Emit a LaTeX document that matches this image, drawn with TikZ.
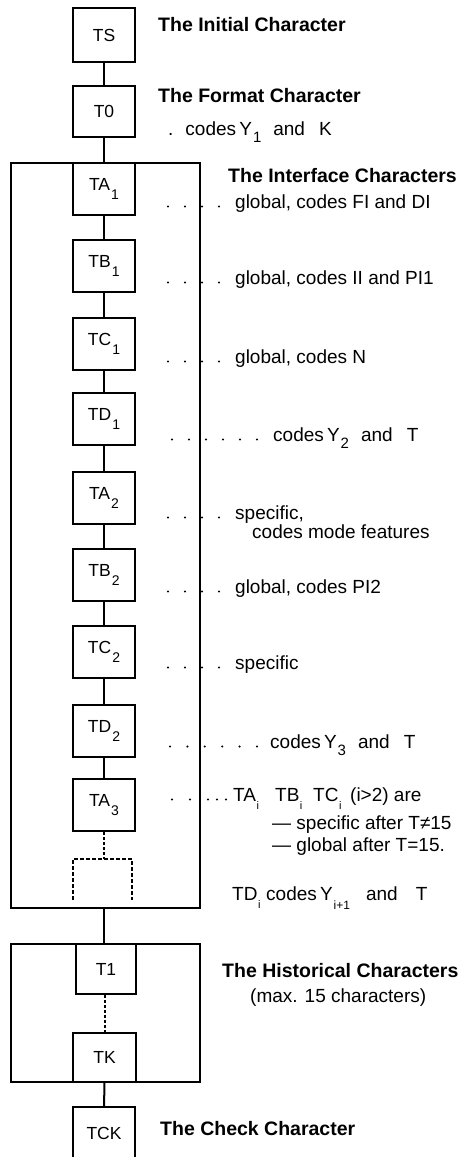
\documentclass[tikz,border=0pt]{standalone}
\usepackage{fontspec}
\setmainfont{Liberation Sans}
\newcommand\bsub[1]{\kern1pt\raisebox{-9pt}{\fontsize{14pt}{14pt}\selectfont #1}}
\newcommand\tsub[1]{\kern1pt\raisebox{-7pt}{\fontsize{15pt}{15pt}\selectfont #1}}
\newcommand\isub[1]{\kern0.5pt\raisebox{-8pt}{\fontsize{11pt}{11pt}\selectfont #1}}
\newcommand\ysub[1]{\kern1pt\raisebox{-9pt}{\fontsize{12pt}{12pt}\selectfont #1}}
\begin{document}
\begin{tikzpicture}[x=1pt,y=-1pt,
  cbox/.style={draw,line width=2pt,minimum width=62pt,minimum height=52pt,inner sep=0pt,font=\fontsize{17.5pt}{17.5pt}\selectfont},
  frame/.style={draw,line width=2pt,inner sep=0pt},
  link/.style={line width=2pt},
  dlink/.style={line width=2pt,dash pattern=on 3pt off 2pt},
  ghost/.style={line width=1.2pt,dash pattern=on 4pt off 2pt},
  leader/.style={line width=2.3pt,line cap=round,dash pattern=on 0pt off 17pt},
  head/.style={anchor=base west,inner sep=0pt,font=\fontsize{19.5pt}{22pt}\selectfont\bfseries},
  txt/.style={anchor=base west,inner sep=0pt,font=\fontsize{19pt}{22pt}\selectfont}]
\useasboundingbox (0,0) rectangle (461,1157);
\fill[white] (0,0) rectangle (461,1157);

% frames
\node[frame,minimum width=189pt,minimum height=745pt] (iface) at (105.5,535.5) {};
\node[frame,minimum width=189pt,minimum height=138pt] (hist) at (105.5,1013) {};

% character boxes
\node[cbox,minimum height=54pt] (TS) at (104,35) {TS};
\node[cbox,minimum height=51pt] (T0) at (104,111.5) {T0};
\node[cbox] (TA1) at (104,189) {TA\bsub{1}};
\node[cbox] (TB1) at (104,266) {TB\bsub{1}};
\node[cbox] (TC1) at (104,343.5) {TC\bsub{1}};
\node[cbox] (TD1) at (104,418.5) {TD\bsub{1}};
\node[cbox] (TA2) at (104,497.5) {TA\bsub{2}};
\node[cbox] (TB2) at (104,575) {TB\bsub{2}};
\node[cbox] (TC2) at (104,651.5) {TC\bsub{2}};
\node[cbox] (TD2) at (104,731) {TD\bsub{2}};
\node[cbox] (TA3) at (104,805) {TA\bsub{3}};
\node[cbox,minimum width=60pt,minimum height=50pt] (T1) at (106,969) {T1};
\node[cbox,minimum width=63pt,minimum height=49pt] (TK) at (104.5,1057.5) {TK};
\node[cbox] (TCK) at (104,1133) {TCK};

% open dotted box
\coordinate (dtop) at (104,859);
\draw[ghost] (73,900) -- (73,859) -- (132,859) -- (132,900);

% connectors
\draw[link] (TS) -- (T0);
\draw[link] (T0) -- (TA1);
\draw[link] (TA1) -- (TB1);
\draw[link] (TB1) -- (TC1);
\draw[link] (TC1) -- (TD1);
\draw[link] (TD1) -- (TA2);
\draw[link] (TA2) -- (TB2);
\draw[link] (TB2) -- (TC2);
\draw[link] (TC2) -- (TD2);
\draw[link] (TD2) -- (TA3);
\draw[dlink] (TA3) -- (dtop);
\draw[link] (TA3 |- iface.south) -- (TA3 |- hist.north);
\draw[dlink] (T1.south -| TK) -- (TK.north);
\draw[link] (TK) -- (TCK);

% headings
\node[head] (hInit) at (158,31) {The Initial Character};
\node[head] (hFmt) at (158,102) {The Format Character};
\node[txt] (fmtc) at (168,135) {.\hspace{12pt}codes\,Y\tsub{1}\hspace{12pt}and\hspace{14pt}K};
\node[head] (hIf) at (228,182) {The Interface Characters};
\node[head] (hHist) at (222,977) {The Historical Characters};
\node[txt] (hHist2) at (250,1002) {(max. 15 characters)};
\node[head] (hChk) at (160,1135) {The Check Character};

% descriptions
\node[txt] (t1) at (235,208) {global, codes FI and DI};
\node[txt] (t2) at (235,284) {global, codes II and PI1};
\node[txt] (t3) at (235,363) {global, codes N};
\node[txt] (t4) at (273,441) {codes\,Y\tsub{2}\hspace{12pt}and\hspace{14pt}T};
\node[txt] (t5) at (235,519) {specific,};
\node[txt] (t5b) at (252,538) {codes mode features};
\node[txt] (t6) at (235,593) {global, codes PI2};
\node[txt] (t7) at (235,669) {specific};
\node[txt] (t8) at (270,748) {codes\,Y\tsub{3}\hspace{12pt}and\hspace{14pt}T};
\node[txt] (t9) at (233,801) {\makebox[42pt][l]{TA\isub{i}}\makebox[38pt][l]{TB\isub{i}}\makebox[37pt][l]{TC\isub{i}}(i>2) are};
\node[txt] (t9b) at (272,829) {— specific after T≠15};
\node[txt] (t9c) at (272,851) {— global after T=15.};
\node[txt] (t10) at (232,900) {\makebox[34pt][l]{TD\isub{i}}codes\,Y\ysub{i+1}\hspace{16pt}and\hspace{18pt}T};

% dotted leaders
\coordinate (l1) at (168,206.5);
\coordinate (l2) at (168,282.5);
\coordinate (l3) at (168,361.5);
\coordinate (l4) at (172,439.5);
\coordinate (l5) at (168,517.5);
\coordinate (l6) at (168,591.5);
\coordinate (l7) at (168,667.5);
\coordinate (l8) at (170,746.5);
\coordinate (l9) at (172,799.5);
\draw[leader] (l1) -- (l1 -| t1.west);
\draw[leader] (l2) -- (l2 -| t2.west);
\draw[leader] (l3) -- (l3 -| t3.west);
\draw[leader] (l4) -- (l4 -| t4.west);
\draw[leader] (l5) -- (l5 -| t5.west);
\draw[leader] (l6) -- (l6 -| t6.west);
\draw[leader] (l7) -- (l7 -| t7.west);
\draw[leader,dash pattern=on 0pt off 17.4pt] (l8) -- (l8 -| t8.west);
\draw[leader,dash pattern=on 0pt off 18pt on 0pt off 18pt on 0pt off 9pt on 0pt off 9pt on 0pt off 20pt] (l9) -- (l9 -| t9.west);
\end{tikzpicture}
\end{document}
